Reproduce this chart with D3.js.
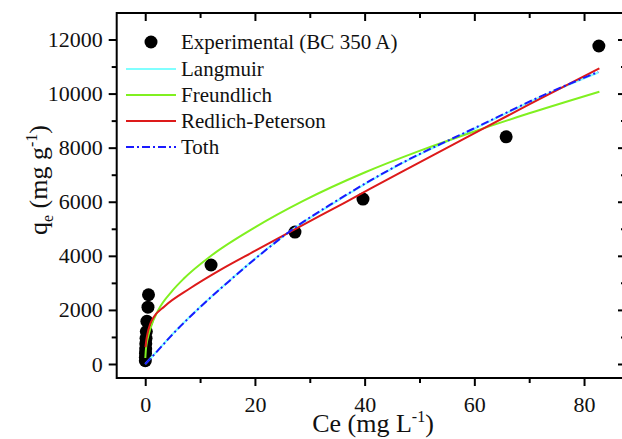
<!DOCTYPE html>
<html>
<head>
<meta charset="utf-8">
<script src="https://cdn.jsdelivr.net/npm/d3@7"></script>
<style>
  body { margin: 0; background: #fff; }
  svg { display: block; }
  text { font-family: "Liberation Serif", "Times New Roman", serif; fill: #111; }
</style>
</head>
<body>
<svg id="svg" width="622" height="439"></svg>
<script>
// experimental points (BC 350 A)
var expX = [0.02, 0.03, 0.05, 0.08, 0.1, 0.15, 0.2, 0.3, 0.5, 0.6, 12, 27.3, 39.7, 65.8, 82.7];
var expY = [120, 250, 400, 550, 750, 950, 1200, 1580, 2100, 2560, 3660, 4880, 6100, 8400, 11760];

// model curves
var langX = [0, 2, 5, 10, 15.5, 21, 27, 34.6, 46.5, 59.8, 73.8, 82.6];
var langY = [0, 440, 1110, 2110, 3110, 4060, 4990, 5980, 7390, 8680, 10030, 10780];

var freX = [0.02, 0.1, 0.3, 0.6, 0.9, 2.4, 5, 7, 12, 20, 28.8, 40, 50, 60, 70, 82.8];
var freY = [220, 480, 800, 1070, 1290, 2000, 2720, 3150, 4000, 5050, 6030, 7080, 7880, 8600, 9270, 10070];

var rpX = [0.05, 0.2, 0.5, 0.9, 1.5, 3.5, 8.2, 13.7, 20, 27, 36.4, 46.5, 59.8, 70, 82.8];
var rpY = [620, 880, 1200, 1480, 1720, 2130, 2800, 3480, 4180, 4950, 5970, 7080, 8510, 9600, 10935];

var tothX = [0, 2, 5, 10, 15.5, 21, 27, 34.6, 46.5, 59.8, 73.8, 82.6];
var tothY = [0, 430, 1100, 2100, 3100, 4050, 5000, 6000, 7400, 8700, 10050, 10800];

var xTicks = [0, 20, 40, 60, 80];
var xMinor = [10, 30, 50, 70];
var yTicks = [0, 2000, 4000, 6000, 8000, 10000, 12000];
var yMinor = [1000, 3000, 5000, 7000, 9000, 11000];

var legendNames = ["Experimental (BC 350 A)", "Langmuir", "Freundlich", "Redlich-Peterson", "Toth"];
var lineColors = ["#000", "#80ffff", "#80f020", "#dd1a1a", "#1a1aff"];

var svg = d3.select("#svg");

// plot box (window.top is taken, so prefixed names)
var boxLeft = 116.7, boxRight = 626, boxTop = 13, boxBottom = 378;

var x = d3.scaleLinear().domain([-5.2, 87.65]).range([boxLeft, boxRight]);
var y = d3.scaleLinear().domain([-518, 12980]).range([boxBottom, boxTop]);

svg.append("clipPath").attr("id", "plotclip")
  .append("rect")
  .attr("x", boxLeft).attr("y", boxTop)
  .attr("width", boxRight - boxLeft).attr("height", boxBottom - boxTop);

// axes: bottom/left ticks outward, top/right inward
var fontSize = "22px";

var gx = svg.append("g").attr("transform", "translate(0," + boxBottom + ")")
  .call(d3.axisBottom(x).tickValues(xTicks).tickSize(8).tickSizeOuter(0).tickPadding(10));
var gxm = svg.append("g").attr("transform", "translate(0," + boxBottom + ")")
  .call(d3.axisBottom(x).tickValues(xMinor).tickSize(5).tickSizeOuter(0).tickFormat(""));
var gxt = svg.append("g").attr("transform", "translate(0," + boxTop + ")")
  .call(d3.axisBottom(x).tickValues(xTicks).tickSize(8).tickSizeOuter(0).tickFormat(""));
var gxtm = svg.append("g").attr("transform", "translate(0," + boxTop + ")")
  .call(d3.axisBottom(x).tickValues(xMinor).tickSize(5).tickSizeOuter(0).tickFormat(""));

var gy = svg.append("g").attr("transform", "translate(" + boxLeft + ",0)")
  .call(d3.axisLeft(y).tickValues(yTicks).tickSize(8).tickSizeOuter(0).tickPadding(6).tickFormat(d3.format("d")));
var gym = svg.append("g").attr("transform", "translate(" + boxLeft + ",0)")
  .call(d3.axisLeft(y).tickValues(yMinor).tickSize(5).tickSizeOuter(0).tickFormat(""));
var gyr = svg.append("g").attr("transform", "translate(" + boxRight + ",0)")
  .call(d3.axisLeft(y).tickValues(yTicks).tickSize(8).tickSizeOuter(0).tickFormat(""));
var gyrm = svg.append("g").attr("transform", "translate(" + boxRight + ",0)")
  .call(d3.axisLeft(y).tickValues(yMinor).tickSize(5).tickSizeOuter(0).tickFormat(""));

// inward ticks for top and right
gxt.selectAll(".tick line").attr("y2", 8);
gxtm.selectAll(".tick line").attr("y2", 5);
gyr.selectAll(".tick line").attr("x2", -8);
gyrm.selectAll(".tick line").attr("x2", -5);

svg.selectAll(".domain").remove();
svg.selectAll(".tick line").attr("stroke", "#000").attr("stroke-width", 2);
svg.selectAll(".tick text")
  .style("font-family", "'Liberation Serif', serif")
  .style("font-size", fontSize)
  .attr("fill", "#111");

// frame
svg.append("rect")
  .attr("x", boxLeft).attr("y", boxTop)
  .attr("width", boxRight - boxLeft).attr("height", boxBottom - boxTop)
  .attr("fill", "none").attr("stroke", "#000").attr("stroke-width", 2);

// curves
var plot = svg.append("g").attr("clip-path", "url(#plotclip)");

var line = d3.line()
  .x(function(d) { return x(d[0]); })
  .y(function(d) { return y(d[1]); })
  .curve(d3.curveMonotoneX);

var curves = [
  { xs: langX, ys: langY, color: lineColors[1], dash: null },
  { xs: freX, ys: freY, color: lineColors[2], dash: null },
  { xs: rpX, ys: rpY, color: lineColors[3], dash: null },
  { xs: tothX, ys: tothY, color: lineColors[4], dash: "8,3,2,3" }
];

// points first so the fit lines sit on top of the clustered ones
plot.selectAll("circle.exp")
  .data(d3.zip(expX, expY))
  .enter().append("circle")
  .attr("class", "exp")
  .attr("cx", function(d) { return x(d[0]); })
  .attr("cy", function(d) { return y(d[1]); })
  .attr("r", 6.5)
  .attr("fill", "#000");

curves.forEach(function(c) {
  plot.append("path")
    .datum(d3.zip(c.xs, c.ys))
    .attr("d", line)
    .attr("fill", "none")
    .attr("stroke", c.color)
    .attr("stroke-width", 2)
    .attr("stroke-dasharray", c.dash);
});

// legend
var legend = svg.append("g");
var legY = [42, 69, 95, 121, 147];
legendNames.forEach(function(name, i) {
  if (i === 0) {
    legend.append("circle").attr("cx", 151).attr("cy", legY[i]).attr("r", 6.5).attr("fill", "#000");
  } else {
    legend.append("line")
      .attr("x1", 126).attr("x2", 176)
      .attr("y1", legY[i]).attr("y2", legY[i])
      .attr("stroke", lineColors[i]).attr("stroke-width", 2)
      .attr("stroke-dasharray", i === 4 ? "8,3,2,3" : null);
  }
  legend.append("text")
    .attr("x", 181).attr("y", legY[i])
    .attr("dy", "0.35em")
    .style("font-size", "21px")
    .text(name);
});

// axis titles
var xt = svg.append("text")
  .attr("x", 373).attr("y", 432)
  .attr("text-anchor", "middle")
  .style("font-size", "26px");
xt.append("tspan").text("Ce (mg L");
xt.append("tspan").attr("dy", -10).style("font-size", "16px").text("-1");
xt.append("tspan").attr("dy", 10).text(")");

var yt = svg.append("text")
  .attr("transform", "translate(47,180) rotate(-90)")
  .attr("text-anchor", "middle")
  .style("font-size", "26px");
yt.append("tspan").text("q");
yt.append("tspan").attr("dy", 6).style("font-size", "16px").text("e");
yt.append("tspan").attr("dy", -6).text(" (mg g");
yt.append("tspan").attr("dy", -10).style("font-size", "16px").text("-1");
yt.append("tspan").attr("dy", 10).text(")");
</script>
</body>
</html>
